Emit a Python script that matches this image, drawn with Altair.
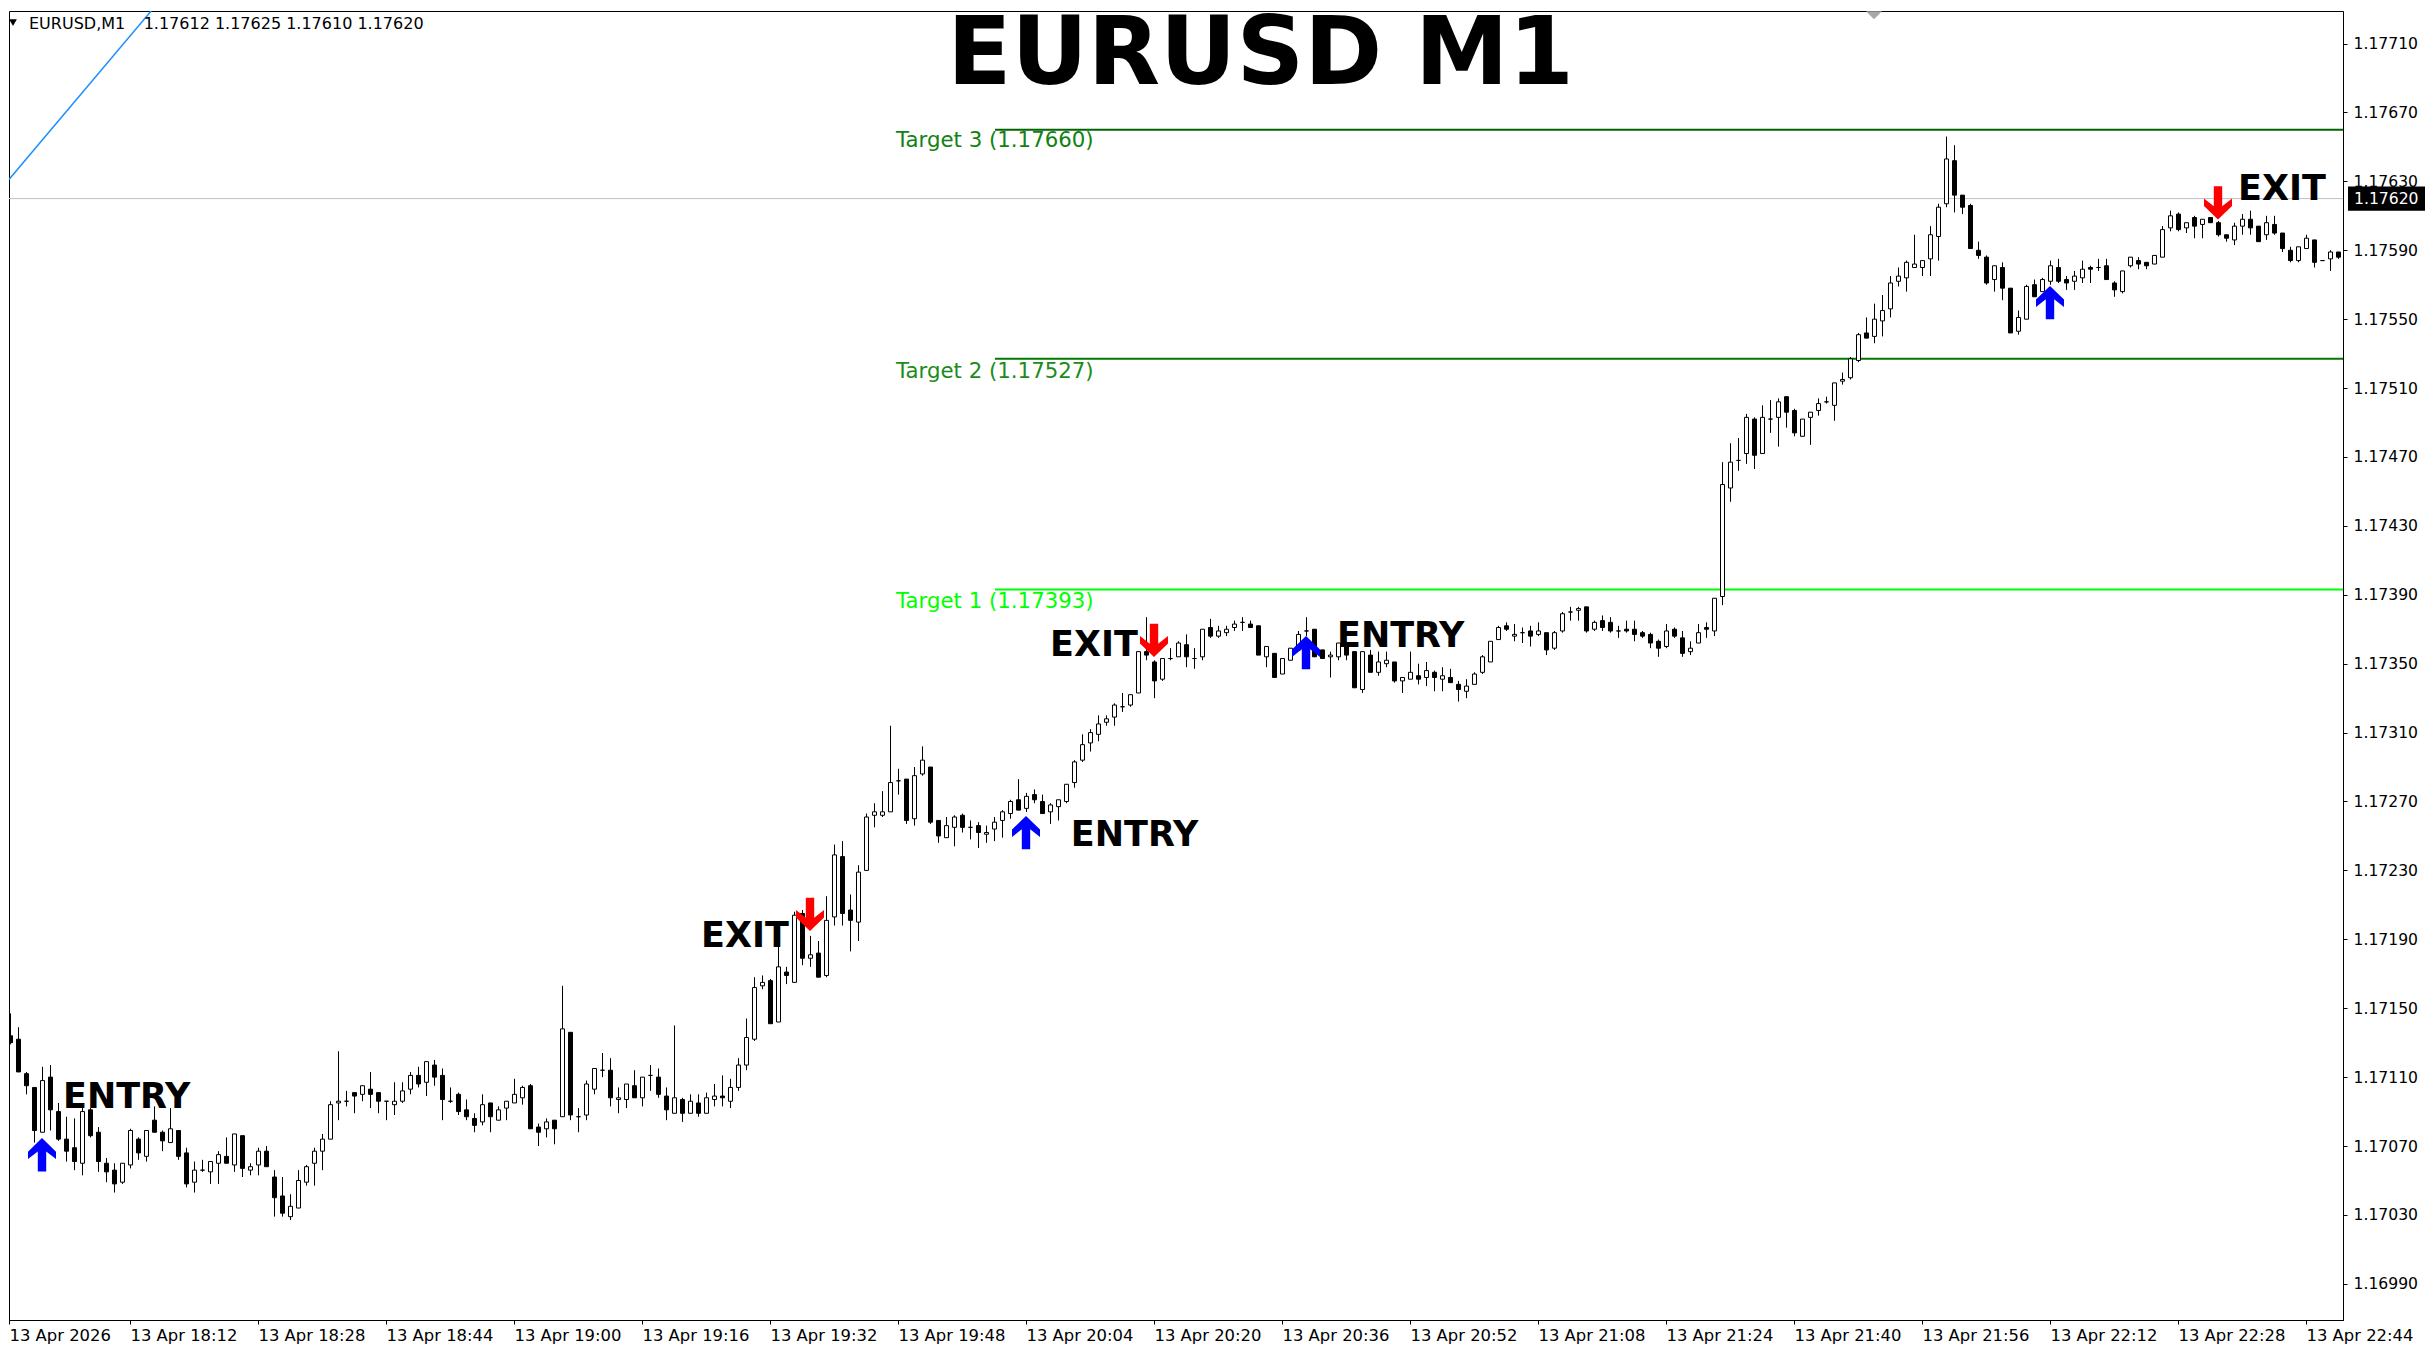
import altair as alt
import pandas as pd

# ---------------- candle data (one-minute bars, 13 Apr 17:56 onward) ----------------
opens = [1.17143,1.17134,1.17132,1.17112,1.17104,1.17078,1.17110,1.17090,1.17074,1.17069,
1.17060,1.17091,1.17078,1.17060,1.17056,1.17049,1.17059,1.17074,1.17064,1.17085,
1.17078,1.17072,1.17079,1.17066,1.17049,1.17056,1.17055,1.17060,1.17064,1.17059,
1.17076,1.17056,1.17059,1.17067,1.17052,1.17041,1.17029,1.17034,1.17049,1.17060,
1.17067,1.17074,1.17095,1.17096,1.17101,1.17100,1.17103,1.17101,1.17096,1.17094,
1.17096,1.17103,1.17111,1.17107,1.17117,1.17111,1.17096,1.17100,1.17091,1.17086,
1.17084,1.17095,1.17085,1.17092,1.17095,1.17098,1.17105,1.17081,1.17080,1.17085,
1.17087,1.17136,1.17087,1.17088,1.17103,1.17114,1.17114,1.17097,1.17097,1.17105,
1.17098,1.17111,1.17110,1.17099,1.17089,1.17097,1.17089,1.17095,1.17089,1.17097,
1.17099,1.17096,1.17104,1.17117,1.17132,1.17163,1.17166,1.17142,1.17171,1.17165,
1.17205,1.17179,1.17182,1.17169,1.17203,1.17238,1.17207,1.17200,1.17230,1.17262,
1.17262,1.17264,1.17282,1.17283,1.17260,1.17286,1.17290,1.17259,1.17249,1.17255,
1.17262,1.17255,1.17256,1.17251,1.17254,1.17259,1.17263,1.17271,1.17266,1.17274,
1.17270,1.17264,1.17267,1.17270,1.17281,1.17294,1.17304,1.17309,1.17316,1.17319,
1.17325,1.17326,1.17333,1.17357,1.17351,1.17341,1.17353,1.17354,1.17361,1.17353,
1.17354,1.17371,1.17366,1.17368,1.17371,1.17374,1.17373,1.17372,1.17354,1.17356,
1.17344,1.17352,1.17358,1.17369,1.17370,1.17358,1.17354,1.17354,1.17362,1.17357,
1.17335,1.17355,1.17345,1.17350,1.17351,1.17340,1.17341,1.17343,1.17342,1.17345,
1.17341,1.17342,1.17338,1.17334,1.17338,1.17345,1.17351,1.17364,1.17372,1.17366,
1.17368,1.17369,1.17367,1.17368,1.17359,1.17369,1.17380,1.17381,1.17383,1.17370,
1.17375,1.17374,1.17369,1.17370,1.17370,1.17368,1.17367,1.17363,1.17360,1.17370,
1.17365,1.17357,1.17362,1.17371,1.17369,1.17389,1.17452,1.17468,1.17472,1.17492,
1.17472,1.17492,1.17493,1.17505,1.17497,1.17482,1.17493,1.17497,1.17502,1.17500,
1.17514,1.17516,1.17526,1.17542,1.17540,1.17549,1.17556,1.17572,1.17574,1.17580,
1.17580,1.17585,1.17598,1.17617,1.17642,1.17622,1.17616,1.17590,1.17586,1.17573,
1.17580,1.17568,1.17543,1.17550,1.17570,1.17566,1.17572,1.17580,1.17573,1.17572,
1.17574,1.17580,1.17580,1.17581,1.17571,1.17566,1.17581,1.17584,1.17583,1.17582,
1.17586,1.17603,1.17611,1.17603,1.17609,1.17605,1.17609,1.17606,1.17599,1.17596,
1.17604,1.17608,1.17604,1.17599,1.17605,1.17600,1.17590,1.17584,1.17591,1.17596,
1.17584,1.17585,1.17589]

highs = [1.17146,1.17147,1.17139,1.17113,1.17104,1.17116,1.17117,1.17095,1.17087,1.17086,
1.17092,1.17092,1.17081,1.17063,1.17060,1.17060,1.17080,1.17075,1.17079,1.17093,
1.17079,1.17092,1.17079,1.17069,1.17061,1.17062,1.17061,1.17067,1.17075,1.17077,
1.17076,1.17060,1.17069,1.17070,1.17056,1.17052,1.17042,1.17056,1.17059,1.17069,
1.17077,1.17096,1.17125,1.17102,1.17101,1.17105,1.17113,1.17101,1.17096,1.17107,
1.17107,1.17113,1.17116,1.17119,1.17120,1.17115,1.17104,1.17101,1.17097,1.17089,
1.17100,1.17095,1.17093,1.17096,1.17109,1.17105,1.17106,1.17083,1.17086,1.17085,
1.17163,1.17136,1.17092,1.17108,1.17115,1.17124,1.17121,1.17104,1.17106,1.17114,
1.17110,1.17117,1.17115,1.17104,1.17140,1.17098,1.17100,1.17100,1.17101,1.17106,
1.17111,1.17109,1.17121,1.17144,1.17168,1.17169,1.17167,1.17190,1.17174,1.17206,
1.17207,1.17192,1.17189,1.17215,1.17245,1.17247,1.17216,1.17233,1.17263,1.17269,
1.17276,1.17314,1.17289,1.17283,1.17290,1.17302,1.17290,1.17259,1.17261,1.17262,
1.17263,1.17259,1.17258,1.17256,1.17261,1.17265,1.17271,1.17283,1.17275,1.17277,
1.17274,1.17269,1.17271,1.17280,1.17294,1.17309,1.17312,1.17320,1.17320,1.17327,
1.17333,1.17332,1.17357,1.17377,1.17352,1.17353,1.17359,1.17363,1.17367,1.17359,
1.17370,1.17376,1.17372,1.17372,1.17375,1.17377,1.17375,1.17372,1.17360,1.17356,
1.17353,1.17359,1.17369,1.17377,1.17370,1.17358,1.17357,1.17362,1.17362,1.17357,
1.17357,1.17358,1.17357,1.17357,1.17351,1.17342,1.17357,1.17350,1.17351,1.17346,
1.17348,1.17347,1.17340,1.17341,1.17345,1.17355,1.17363,1.17372,1.17374,1.17373,
1.17371,1.17372,1.17374,1.17368,1.17369,1.17380,1.17383,1.17383,1.17383,1.17375,
1.17378,1.17377,1.17372,1.17375,1.17375,1.17369,1.17368,1.17364,1.17373,1.17371,
1.17369,1.17363,1.17373,1.17374,1.17388,1.17467,1.17478,1.17481,1.17495,1.17493,
1.17500,1.17503,1.17504,1.17505,1.17498,1.17492,1.17496,1.17504,1.17505,1.17513,
1.17519,1.17528,1.17542,1.17551,1.17559,1.17564,1.17575,1.17580,1.17584,1.17599,
1.17584,1.17604,1.17617,1.17656,1.17651,1.17622,1.17617,1.17595,1.17587,1.17581,
1.17583,1.17568,1.17555,1.17570,1.17573,1.17574,1.17584,1.17585,1.17575,1.17578,
1.17584,1.17581,1.17585,1.17585,1.17572,1.17578,1.17586,1.17586,1.17583,1.17587,
1.17604,1.17613,1.17612,1.17606,1.17610,1.17608,1.17609,1.17607,1.17599,1.17606,
1.17611,1.17613,1.17604,1.17610,1.17610,1.17600,1.17592,1.17592,1.17599,1.17596,
1.17584,1.17590,1.17589]

lows = [1.17132,1.17129,1.17113,1.17100,1.17072,1.17078,1.17079,1.17073,1.17061,1.17056,
1.17053,1.17075,1.17055,1.17049,1.17043,1.17048,1.17057,1.17062,1.17061,1.17078,
1.17067,1.17072,1.17062,1.17046,1.17043,1.17055,1.17048,1.17048,1.17060,1.17055,
1.17052,1.17053,1.17053,1.17058,1.17029,1.17029,1.17027,1.17034,1.17047,1.17047,
1.17056,1.17074,1.17085,1.17093,1.17089,1.17096,1.17092,1.17089,1.17085,1.17088,
1.17095,1.17100,1.17104,1.17099,1.17105,1.17085,1.17095,1.17088,1.17085,1.17078,
1.17082,1.17078,1.17085,1.17085,1.17095,1.17094,1.17080,1.17070,1.17075,1.17071,
1.17087,1.17085,1.17078,1.17085,1.17100,1.17110,1.17093,1.17089,1.17092,1.17098,
1.17093,1.17102,1.17098,1.17085,1.17089,1.17084,1.17089,1.17087,1.17089,1.17093,
1.17093,1.17092,1.17102,1.17114,1.17131,1.17161,1.17141,1.17142,1.17164,1.17165,
1.17175,1.17174,1.17168,1.17168,1.17198,1.17198,1.17183,1.17189,1.17230,1.17255,
1.17261,1.17264,1.17274,1.17257,1.17256,1.17285,1.17257,1.17246,1.17249,1.17244,
1.17252,1.17248,1.17243,1.17246,1.17247,1.17249,1.17260,1.17265,1.17264,1.17269,
1.17263,1.17257,1.17259,1.17269,1.17278,1.17293,1.17299,1.17305,1.17314,1.17314,
1.17322,1.17325,1.17333,1.17352,1.17330,1.17340,1.17352,1.17354,1.17348,1.17347,
1.17352,1.17365,1.17365,1.17366,1.17369,1.17369,1.17371,1.17355,1.17348,1.17342,
1.17344,1.17352,1.17358,1.17366,1.17354,1.17353,1.17342,1.17352,1.17352,1.17336,
1.17333,1.17345,1.17343,1.17348,1.17339,1.17333,1.17341,1.17338,1.17337,1.17334,
1.17334,1.17339,1.17328,1.17330,1.17338,1.17344,1.17351,1.17364,1.17369,1.17363,
1.17362,1.17360,1.17366,1.17355,1.17358,1.17368,1.17375,1.17375,1.17368,1.17369,
1.17369,1.17368,1.17365,1.17368,1.17363,1.17365,1.17359,1.17354,1.17359,1.17365,
1.17354,1.17355,1.17362,1.17365,1.17366,1.17384,1.17444,1.17462,1.17466,1.17463,
1.17472,1.17484,1.17476,1.17487,1.17482,1.17482,1.17477,1.17494,1.17501,1.17491,
1.17512,1.17515,1.17525,1.17539,1.17536,1.17540,1.17551,1.17569,1.17566,1.17580,
1.17575,1.17575,1.17584,1.17615,1.17612,1.17611,1.17591,1.17585,1.17570,1.17566,
1.17561,1.17542,1.17541,1.17550,1.17563,1.17566,1.17570,1.17571,1.17567,1.17567,
1.17571,1.17571,1.17578,1.17573,1.17563,1.17565,1.17580,1.17579,1.17579,1.17582,
1.17586,1.17601,1.17601,1.17600,1.17597,1.17597,1.17606,1.17598,1.17595,1.17593,
1.17599,1.17599,1.17595,1.17596,1.17599,1.17589,1.17583,1.17583,1.17591,1.17580,
1.17584,1.17578,1.17585]

closes = [1.17135,1.17130,1.17113,1.17105,1.17079,1.17108,1.17091,1.17074,1.17067,1.17061,
1.17090,1.17076,1.17061,1.17055,1.17048,1.17060,1.17079,1.17066,1.17079,1.17078,
1.17073,1.17080,1.17064,1.17048,1.17056,1.17056,1.17061,1.17065,1.17060,1.17077,
1.17057,1.17058,1.17067,1.17058,1.17040,1.17031,1.17035,1.17050,1.17058,1.17067,
1.17074,1.17094,1.17096,1.17096,1.17099,1.17105,1.17100,1.17096,1.17096,1.17096,
1.17102,1.17111,1.17106,1.17119,1.17110,1.17097,1.17096,1.17090,1.17087,1.17082,
1.17094,1.17087,1.17091,1.17096,1.17100,1.17104,1.17080,1.17078,1.17084,1.17080,
1.17138,1.17088,1.17087,1.17106,1.17115,1.17114,1.17098,1.17098,1.17106,1.17098,
1.17110,1.17111,1.17100,1.17091,1.17098,1.17089,1.17096,1.17089,1.17098,1.17099,
1.17098,1.17104,1.17117,1.17133,1.17162,1.17165,1.17141,1.17174,1.17169,1.17204,
1.17179,1.17181,1.17168,1.17201,1.17239,1.17205,1.17201,1.17229,1.17261,1.17264,
1.17264,1.17281,1.17282,1.17259,1.17285,1.17294,1.17258,1.17250,1.17256,1.17261,
1.17255,1.17255,1.17252,1.17252,1.17258,1.17264,1.17270,1.17265,1.17273,1.17271,
1.17263,1.17268,1.17271,1.17280,1.17293,1.17303,1.17310,1.17315,1.17318,1.17326,
1.17325,1.17332,1.17357,1.17355,1.17340,1.17353,1.17353,1.17362,1.17354,1.17353,
1.17370,1.17366,1.17369,1.17370,1.17373,1.17374,1.17371,1.17355,1.17360,1.17342,
1.17353,1.17359,1.17367,1.17369,1.17354,1.17353,1.17355,1.17362,1.17355,1.17336,
1.17357,1.17345,1.17351,1.17352,1.17340,1.17342,1.17345,1.17341,1.17346,1.17342,
1.17343,1.17339,1.17335,1.17337,1.17344,1.17354,1.17363,1.17371,1.17370,1.17367,
1.17368,1.17366,1.17369,1.17358,1.17368,1.17379,1.17380,1.17382,1.17369,1.17374,
1.17371,1.17369,1.17369,1.17369,1.17367,1.17366,1.17362,1.17359,1.17369,1.17366,
1.17356,1.17359,1.17368,1.17370,1.17388,1.17454,1.17467,1.17468,1.17493,1.17471,
1.17493,1.17492,1.17502,1.17496,1.17484,1.17492,1.17496,1.17501,1.17502,1.17513,
1.17515,1.17527,1.17541,1.17539,1.17550,1.17555,1.17571,1.17575,1.17583,1.17582,
1.17584,1.17599,1.17615,1.17643,1.17622,1.17615,1.17591,1.17587,1.17571,1.17581,
1.17568,1.17542,1.17551,1.17569,1.17563,1.17573,1.17581,1.17572,1.17571,1.17575,
1.17579,1.17579,1.17580,1.17573,1.17567,1.17578,1.17586,1.17582,1.17581,1.17587,
1.17602,1.17610,1.17602,1.17606,1.17604,1.17608,1.17606,1.17599,1.17597,1.17604,
1.17608,1.17603,1.17595,1.17606,1.17600,1.17591,1.17584,1.17592,1.17597,1.17583,
1.17584,1.17589,1.17586]

bar_numbers = list(range(len(opens)))

# ---------------- axes ----------------
time_tick_bars = [0.875, 16, 32, 48, 64, 80, 96, 112, 128, 144, 160, 176, 192, 208, 224, 240, 256, 272, 288]
time_tick_labels = ["13 Apr 2026", "13 Apr 18:12", "13 Apr 18:28", "13 Apr 18:44", "13 Apr 19:00",
                    "13 Apr 19:16", "13 Apr 19:32", "13 Apr 19:48", "13 Apr 20:04", "13 Apr 20:20",
                    "13 Apr 20:36", "13 Apr 20:52", "13 Apr 21:08", "13 Apr 21:24", "13 Apr 21:40",
                    "13 Apr 21:56", "13 Apr 22:12", "13 Apr 22:28", "13 Apr 22:44"]
price_ticks = [1.16990, 1.17030, 1.17070, 1.17110, 1.17150, 1.17190, 1.17230, 1.17270, 1.17310,
               1.17350, 1.17390, 1.17430, 1.17470, 1.17510, 1.17550, 1.17590, 1.17630, 1.17670, 1.17710]

# ---------------- objects on the chart ----------------
current_bid = [1.17620]
header_symbol = ["EURUSD,M1"]
header_ohlc = [1.17612, 1.17625, 1.17610, 1.17620]
chart_title = ["EURUSD M1"]

target_names = ["Target 1", "Target 2", "Target 3"]
target_prices = [1.17393, 1.17527, 1.17660]
target_label_prices = [1.17386, 1.175194, 1.176535]
target_line_start_bar = [124.125]
target_label_bar = [111.75]

entry_bars = [5, 128, 163, 256]
entry_arrow_prices = [1.170746, 1.172616, 1.173661, 1.175693]
exit_bars = [101, 144, 277]
exit_arrow_prices = [1.171948, 1.173539, 1.176078]

signal_texts = ["ENTRY", "EXIT", "ENTRY", "EXIT", "ENTRY", "EXIT"]
signal_text_bars = [7.625, 87.375, 133.6, 131.0, 166.875, 279.5]
signal_text_prices = [1.170921, 1.171855, 1.172442, 1.173545, 1.173597, 1.176194]

trend_bars = [0.875, 18.64]
trend_prices = [1.176311, 1.177289]

# ---------------- styles ----------------
FONT = "DejaVu Sans"
X_DOMAIN = [0.875, 292.625]
Y_DOMAIN = [1.169690, 1.177289]
TARGET_LINE_COLORS = ["#00FF00", "#007800", "#006400"]
TARGET_TEXT_COLORS = ["#00FF00", "#1A8C1A", "#128212"]
UP_ARROW = "M0,0 L1,0.97 L1,1.5 L0.3,0.95 L0.3,2.38 L-0.3,2.38 L-0.3,0.95 L-1,1.5 L-1,0.97 Z"
DOWN_ARROW = "M0,0 L1,-0.97 L1,-1.5 L0.3,-0.95 L0.3,-2.38 L-0.3,-2.38 L-0.3,-0.95 L-1,-1.5 L-1,-0.97 Z"
SHIFT_MARK = "M-1,-0.5 L1,-0.5 L0,0.5 Z"

x_scale = alt.Scale(domain=X_DOMAIN, nice=False, zero=False, padding=0)
y_scale = alt.Scale(domain=Y_DOMAIN, nice=False, zero=False, padding=0)

label_array = "[" + ",".join("'" + s + "'" for s in time_tick_labels) + "]"
x_axis = alt.Axis(values=time_tick_bars, labelExpr=label_array + "[round(datum.value / 16)]",
                  orient="bottom", title=None, grid=False, tickSize=4, tickColor="black",
                  domainColor="black", labelColor="black", labelFont=FONT, labelFontSize=16.4,
                  labelAlign="left", labelBaseline="top", labelPadding=3, labelFlush=False,
                  labelOverlap=False)
y_axis = alt.Axis(values=price_ticks, format=".5f", orient="right", title=None, grid=False,
                  tickSize=4, tickColor="black", domainColor="black", labelColor="black",
                  labelFont=FONT, labelFontSize=15.6, labelPadding=6, labelFlush=False,
                  labelOverlap=False, labelBaseline="middle")


def X(field):
    return alt.X(field + ":Q", scale=x_scale, axis=x_axis)


def Y(field):
    return alt.Y(field + ":Q", scale=y_scale, axis=y_axis)


candles = pd.DataFrame({"bar": bar_numbers, "open": opens, "high": highs, "low": lows, "close": closes})
layers = []

# bid line
layers.append(alt.Chart(pd.DataFrame({"price": current_bid})).mark_rule(color="#C0C0C0", strokeWidth=1)
              .encode(y=Y("price")))

# target lines and labels
for i, name in enumerate(target_names):
    tdf = pd.DataFrame({"start": target_line_start_bar, "end": [X_DOMAIN[1]], "price": [target_prices[i]],
                        "lbar": target_label_bar, "lprice": [target_label_prices[i]],
                        "label": [f"{name} ({target_prices[i]:.5f})"]})
    layers.append(alt.Chart(tdf).mark_rule(color=TARGET_LINE_COLORS[i], strokeWidth=2)
                  .encode(x=X("start"), x2="end", y=Y("price")))
    layers.append(alt.Chart(tdf).mark_text(align="left", baseline="middle", font=FONT, fontSize=21.3,
                                           color=TARGET_TEXT_COLORS[i])
                  .encode(x=X("lbar"), y=Y("lprice"), text="label:N"))

# trend line
layers.append(alt.Chart(pd.DataFrame({"bar": trend_bars, "price": trend_prices}))
              .mark_line(color="#1E90FF", strokeWidth=1.5, clip=True)
              .encode(x=X("bar"), y=Y("price")))

# candles (bars that fall outside the visible time window are left out)
candles_in_view = candles[candles["bar"] >= X_DOMAIN[0]]
layers.append(alt.Chart(candles_in_view).mark_rule(color="black", strokeWidth=1, clip=True, xOffset=0.5)
              .encode(x=X("bar"), y=Y("low"), y2="high"))
layers.append(alt.Chart(candles_in_view).mark_bar(size=4, stroke="black", strokeWidth=1, clip=True, xOffset=0.5)
              .encode(x=X("bar"), y=Y("open"), y2="close",
                      fill=alt.condition(alt.datum.close >= alt.datum.open, alt.value("white"),
                                         alt.value("black"))))

# signal arrows
layers.append(alt.Chart(pd.DataFrame({"bar": entry_bars, "price": entry_arrow_prices}))
              .mark_point(shape=UP_ARROW, size=784, filled=True, color="#0000FF", opacity=1, strokeWidth=0)
              .encode(x=X("bar"), y=Y("price")))
layers.append(alt.Chart(pd.DataFrame({"bar": exit_bars, "price": exit_arrow_prices}))
              .mark_point(shape=DOWN_ARROW, size=784, filled=True, color="#FF0000", opacity=1, strokeWidth=0)
              .encode(x=X("bar"), y=Y("price")))

# signal words
layers.append(alt.Chart(pd.DataFrame({"bar": signal_text_bars, "price": signal_text_prices, "t": signal_texts}))
              .mark_text(align="left", baseline="alphabetic", font=FONT, fontWeight="bold", fontSize=35,
                         color="black")
              .encode(x=X("bar"), y=Y("price"), text="t:N"))

# big title
layers.append(alt.Chart(pd.DataFrame({"bar": [118.15], "price": [1.176867], "t": chart_title}))
              .mark_text(align="left", baseline="alphabetic", font=FONT, fontWeight="bold", fontSize=94,
                         color="black")
              .encode(x=X("bar"), y=Y("price"), text="t:N"))

# header line (symbol + last bar OHLC)
header_text = header_symbol[0] + "\u00a0\u00a0\u00a0\u2009" + " ".join(f"{v:.5f}" for v in header_ohlc)
layers.append(alt.Chart(pd.DataFrame({"bar": [3.375], "price": [1.177185], "t": [header_text]}))
              .mark_text(align="left", baseline="alphabetic", font=FONT, fontSize=16, color="black")
              .encode(x=X("bar"), y=Y("price"), text="t:N"))
layers.append(alt.Chart(pd.DataFrame({"bar": [1.375], "price": [1.177222]}))
              .mark_point(shape="triangle-down", size=60, filled=True, color="black", opacity=1, strokeWidth=0)
              .encode(x=X("bar"), y=Y("price")))

# chart-shift marker at the top border
layers.append(alt.Chart(pd.DataFrame({"bar": [234.0], "price": [1.177265]}))
              .mark_point(shape=SHIFT_MARK, size=256, filled=True, color="#A8A8A8", opacity=1, strokeWidth=0)
              .encode(x=X("bar"), y=Y("price")))

# current price box on the price scale
box = pd.DataFrame({"x0": [293.25], "x1": [302.875], "y0": [current_bid[0] - 0.00007],
                    "y1": [current_bid[0] + 0.00007], "tx": [294.0], "price": current_bid,
                    "t": [f"{current_bid[0]:.5f}"]})
layers.append(alt.Chart(box).mark_rect(color="black")
              .encode(x=X("x0"), x2="x1", y=Y("y0"), y2="y1"))
layers.append(alt.Chart(box).mark_text(align="left", baseline="middle", font=FONT, fontSize=15.6, color="white")
              .encode(x=X("tx"), y=Y("price"), text="t:N"))

chart = (alt.layer(*layers)
         .properties(width=2334, height=1309, padding=0, background="white")
         .configure_view(stroke="black", strokeWidth=1))

chart.save("out.html", embed_options={"renderer": "svg", "actions": False})
